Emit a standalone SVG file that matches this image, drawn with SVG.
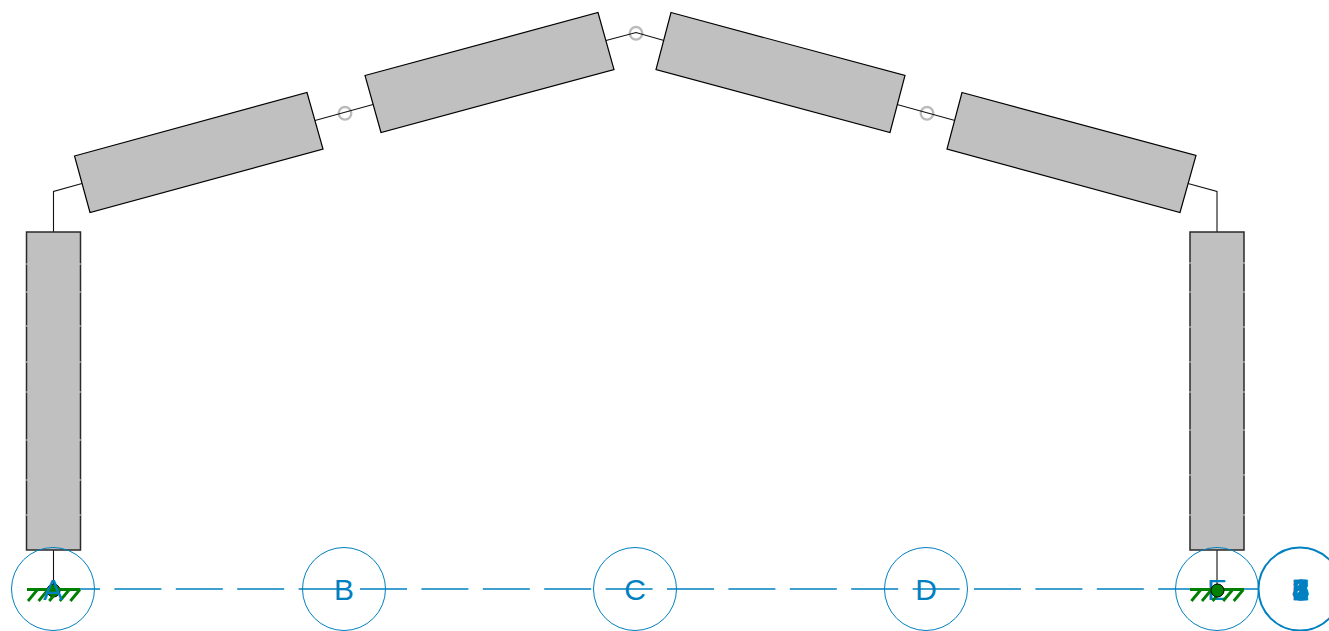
<svg xmlns="http://www.w3.org/2000/svg" width="1329" height="631" viewBox="0 0 1329 631">
<style>
.m{fill:#c0c0c0;stroke:#000;stroke-width:1.2}
.e{fill:#c0c0c0;stroke:#2a2a2a;stroke-width:1.5}
.k{fill:none;stroke:#d0d0d0;stroke-width:1}
.c{fill:none;stroke:#111;stroke-width:1.1}
.h{fill:none;stroke:#bbb;stroke-width:2.4}
.g{fill:none;stroke:#0080c0;stroke-width:1}
.a{stroke-dasharray:47 14.4;stroke-width:1.5}
.t{fill:#0080c0;font-family:"Liberation Sans",Arial,sans-serif;font-size:30px;text-anchor:middle}
.b{stroke:#0080c0;stroke-width:.6}
.s{fill:none;stroke:#008000;stroke-width:2.8}
</style>
<rect width="1329" height="631" fill="#fff"/>
<g id="grid">
<line class="g a" x1="53" y1="589" x2="1259" y2="589"/>
</g>
<g id="hinge-1"><circle class="h" cx="345" cy="113.300" r="6.300"/></g>
<g id="hinge-2"><circle class="h" cx="636" cy="33.300" r="6.300"/></g>
<g id="hinge-3"><circle class="h" cx="927" cy="113.300" r="6.300"/></g>
<g id="connectors">
<path class="c" d="M53.500 232V191.500L82 183.500"/>
<path class="c" d="M315 120.500L373 104.500"/>
<path class="c" d="M606 40.500L636 32.500L664 40.500"/>
<path class="c" d="M897 104.500L955 120.500"/>
<path class="c" d="M1188 183.500L1217 191.500V232"/>
<path class="c" d="M53.500 550V589"/>
<path class="c" d="M1217 550V589"/>
</g>
<g id="column-left"><rect class="e" x="26.500" y="232" width="54" height="318"/>
<path class="k" d="M26 264h2M79 264h2M26 292h2M79 292h2M26 326h2M79 326h2M26 362h2M79 362h2M26 392h2M79 392h2M26 440h2M79 440h2M26 480h2M79 480h2M26 515h2M79 515h2"/></g>
<g id="column-right"><rect class="e" x="1190" y="232" width="54" height="318"/>
<path class="k" d="M1243 263h2M1189 263h2M1243 292h2M1189 292h2M1243 327h2M1189 327h2M1243 362h2M1189 362h2M1243 392h2M1189 392h2M1243 430h2M1189 430h2M1243 475h2M1189 475h2M1243 515h2M1189 515h2"/></g>
<g id="beam-1"><polygon class="m" points="74.500,156 307,92.500 323,149 90,212.500"/></g>
<g id="beam-2"><polygon class="m" points="365,75.500 598,12.500 614,69.500 381,132.500"/></g>
<g id="beam-3"><polygon class="m" points="671,12.500 905,75.500 890,132.500 656,69.500"/></g>
<g id="beam-4"><polygon class="m" points="962,92.500 1196,155.500 1180,212.500 947,149"/></g>
<g id="support-left">
<circle cx="53.500" cy="590.500" r="6.500" fill="#008000" stroke="#000"/>
<path class="s" d="M27 589.500H80M37.600 589.500L28 601M48.200 589.500L38.600 601M58.800 589.500L49.200 601M69.400 589.500L59.800 601M80 589.500L70.400 601"/>
</g>
<g id="axis-a"><circle class="g" cx="53" cy="589" r="41.500"/><text class="t" x="53" y="600">A</text></g>
<g id="axis-b"><circle class="g" cx="344" cy="589" r="41.500"/><text class="t" x="344" y="600">B</text></g>
<g id="axis-c"><circle class="g" cx="635" cy="589" r="41.500"/><text class="t" x="635" y="600">C</text></g>
<g id="axis-d"><circle class="g" cx="926" cy="589" r="41.500"/><text class="t" x="926" y="600">D</text></g>
<g id="axis-e"><circle class="g" cx="1217" cy="589" r="41.500"/><text class="t" x="1217" y="600">E</text></g>
<g id="support-right">
<path class="s" d="M1190 589.500H1244M1201 589.500L1191.400 601M1211.600 589.500L1202 601M1222.200 589.500L1212.600 601M1232.800 589.500L1223.200 601M1243.400 589.500L1233.800 601"/>
<circle cx="1217.500" cy="590.500" r="6.500" fill="#008000" stroke="#000"/>
</g>
<g id="axis-levels">
<circle class="g" style="stroke-width:2" cx="1300" cy="589" r="41.500"/>
<text class="t b" x="1300.500" y="600">1</text>
<text class="t b" x="1300.500" y="600">2</text>
<text class="t b" x="1300.500" y="600">3</text>
<text class="t b" x="1300.500" y="600">4</text>
<text class="t b" x="1300.500" y="600">5</text>
<text class="t b" x="1300.500" y="600">6</text>
<text class="t b" x="1300.500" y="600">7</text>
<text class="t b" x="1300.500" y="600">8</text>
</g>
</svg>
